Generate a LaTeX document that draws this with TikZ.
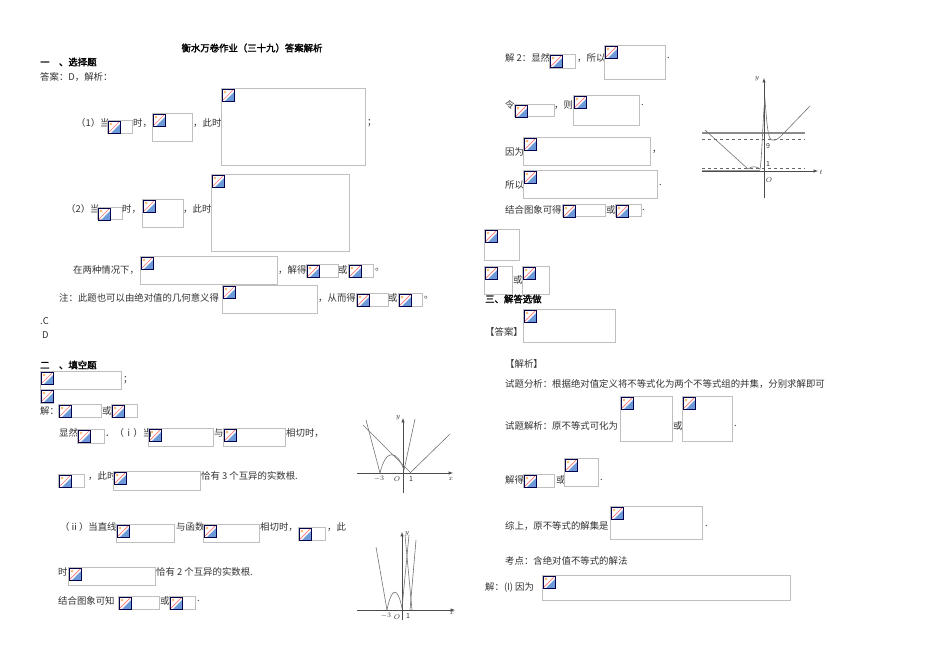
\documentclass[tikz,border=0pt]{standalone}
\usepackage{fontspec}
\setmainfont{Noto Sans CJK SC}
\newfontfamily\hbold[FakeBold=2]{Noto Sans CJK SC}
\begin{document}
\begin{tikzpicture}[x=1pt,y=-1pt,
  txt/.style={anchor=west,inner sep=0pt,font=\fontsize{9.4}{10}\selectfont,text=black!80},
  hd/.style={anchor=west,inner sep=0pt,font=\fontsize{9.4}{10}\selectfont\hbold,text=black},
  lab/.style={inner sep=0pt,font=\fontsize{7}{8}\selectfont,text=black!80},
  box/.style={draw=black!25,line width=0.6pt},
  ax/.style={black!70,line width=0.5pt,-latex},
  cv/.style={black!55,line width=0.6pt}]
\useasboundingbox[fill=white] (0,0) rectangle (950,671);
\newcommand\ph[4]{%
  \draw[box] (#1,#2) rectangle (#3,#4);
  \begin{scope}[shift={(#1+1,#2+1)}]
    \fill[cyan!50!blue!60] (12,3) -- (12,12) -- (3,12) -- cycle;
    \fill[orange!60] (3,3) circle (1.4);
    \draw[red!55,line width=0.7pt] (0,12) -- (12,0);
    \draw[black!70!blue,line width=0.6pt] (0,0) rectangle (12,12);
  \end{scope}}
% ---- left column
\node[hd,anchor=center] (title) at (252,48) {衡水万卷作业（三十九）答案解析};
\node[hd] (s1) at (40,62) {一　、选择题};
\node[txt] (a1) at (40,77) {答案：D，解析：};
\node[txt] (l1) at (76,123) {（1）当};
\ph{107}{120}{132}{133}
\node[txt] (l1b) at (133,123) {时，};
\ph{152}{113}{192}{141}
\node[txt] (l1c) at (193,123) {，此时};
\ph{221}{88}{365}{165}
\node[txt] (l1d) at (367,123) {；};
\node[txt] (l2) at (66,209) {（2）当};
\ph{97}{207}{122}{219}
\node[txt] (l2b) at (122,209) {时，};
\ph{142}{199}{183}{227}
\node[txt] (l2c) at (183,209) {，此时};
\ph{211}{174}{349}{251}
\node[txt] (l3) at (73,270) {在两种情况下，};
\ph{140}{256}{277}{284}
\node[txt] (l3b) at (278,270) {，解得};
\ph{306}{264}{338}{277}
\node[txt] (l3c) at (338,270) {或};
\ph{348}{264}{373}{277}
\node[txt] (l3d) at (375,270) {。};
\node[txt] (l4) at (59,298) {注：此题也可以由绝对值的几何意义得};
\ph{222}{285}{317}{313}
\node[txt] (l4b) at (318,298) {，从而得};
\ph{356}{293}{388}{306}
\node[txt] (l4c) at (388,298) {或};
\ph{398}{293}{422}{306}
\node[txt] (l4d) at (424,298) {。};
\node[txt] (c1) at (40,321) {.C};
\node[txt] (d1) at (42,335) {D};
\node[hd] (s2) at (40,365) {二　、填空题};
\ph{40}{371}{121}{389}
\node[txt] (f1) at (123,380) {；};
\ph{40}{389}{53}{403}
\node[txt] (f2) at (40,411) {解：};
\ph{58}{404}{101}{417}
\node[txt] (f2b) at (102,411) {或};
\ph{111}{404}{137}{417}
\node[txt] (f3) at (59,433) {显然};
\ph{77}{429}{104}{443}
\node[txt] (f3b) at (105,433) {．（ⅰ）当};
\ph{148}{428}{213}{446}
\node[txt] (f3c) at (214,433) {与};
\ph{223}{428}{285}{446}
\node[txt] (f3d) at (286,433) {相切时，};
\ph{58}{474}{84}{487}
\node[txt] (f4) at (88,476) {，此时};
\ph{113}{471}{200}{490}
\node[txt] (f4b) at (201,476) {恰有 3 个互异的实数根.};
\node[txt] (f5) at (60,527) {（ⅱ）当直线};
\ph{116}{524}{174}{542}
\node[txt] (f5b) at (176,527) {与函数};
\ph{203}{524}{259}{542}
\node[txt] (f5c) at (260,527) {相切时，};
\ph{298}{527}{325}{540}
\node[txt] (f5d) at (327,527) {，此};
\node[txt] (f6) at (58,572) {时};
\ph{68}{567}{155}{585}
\node[txt] (f6b) at (156,572) {恰有 2 个互异的实数根.};
\node[txt] (f7) at (58,601) {结合图象可知};
\ph{118}{596}{159}{609}
\node[txt] (f7b) at (160,601) {或};
\ph{169}{596}{195}{609}
\node[txt] (f7c) at (197,601) {.};
% graph 1
\draw[ax] (357,473) -- (453,473);
\draw[ax] (403,493) -- (403,418);
\draw[cv] (366,420) -- (380,473);
\draw[cv] (380,473) .. controls (386,448) and (397,450) .. (404,470);
\draw[cv] (404,470) -- (415,419);
\draw[cv] (363,425) -- (412,474);
\draw[cv] (410,473) -- (450,434);
\node[lab] (g1m3) at (379,479) {$-3$};
\node[lab] (g1o) at (397,479) {$O$};
\node[lab] (g1one) at (411,479) {1};
\node[lab] (g1x) at (451,479) {$x$};
\node[lab] (g1y) at (398,418) {$y$};
% graph 2
\draw[ax] (357,610) -- (455,610);
\draw[ax] (402,620) -- (402,532);
\draw[cv] (376,547) -- (387,610);
\draw[cv] (387,610) .. controls (392,585) and (398,588) .. (402,608);
\draw[cv] (402,608) -- (409,535);
\draw[cv] (405,535) -- (412,610);
\draw[cv] (410,610) -- (416,540);
\node[lab] (g2m3) at (386,616) {$-3$};
\node[lab] (g2o) at (397,617) {$O$};
\node[lab] (g2one) at (408,616) {1};
\node[lab] (g2x) at (452,613) {$x$};
\node[lab] (g2y) at (407,534) {$y$};
% ---- right column
\node[txt] (r1) at (505,58) {解 2：显然};
\ph{549}{54}{575}{68}
\node[txt] (r1b) at (577,58) {，所以};
\ph{604}{45}{665}{79}
\node[txt] (r1c) at (667,58) {.};
\node[txt] (r2) at (505,105) {令};
\ph{514}{104}{554}{116}
\node[txt] (r2b) at (554,105) {，则};
\ph{573}{95}{639}{125}
\node[txt] (r2c) at (641,105) {.};
\node[txt] (r3) at (505,152) {因为};
\ph{523}{137}{650}{165}
\node[txt] (r3b) at (652,152) {，};
\node[txt] (r4) at (505,185) {所以};
\ph{523}{170}{657}{198}
\node[txt] (r4b) at (659,185) {.};
\node[txt] (r5) at (505,210) {结合图象可得};
\ph{562}{204}{605}{216}
\node[txt] (r5b) at (606,210) {或};
\ph{615}{204}{641}{216}
\node[txt] (r5c) at (642,210) {.};
\ph{484}{229}{519}{260}
\ph{484}{266}{512}{294}
\node[txt] (r6) at (513,280) {或};
\ph{522}{266}{549}{294}
% graph 3
\draw[black!45,line width=1.2pt] (702,133) -- (805,133);
\draw[black!60,dashed,line width=0.4pt] (702,139) -- (805,139);
\draw[black!60,dashed,line width=0.4pt] (702,168) -- (805,168);
\draw[black!40,line width=1.4pt] (702,170.5) -- (760,170.5);
\draw[ax] (702,171) -- (818,171);
\draw[ax] (764,198) -- (764,78);
\draw[cv] (705,130) -- (748,169) .. controls (752,166) and (756,166) .. (760,169) .. controls (762,160) and (763,110) .. (765,100) .. controls (767,125) and (768,140) .. (772,140) .. controls (776,141) and (779,138) .. (782,135) -- (810,106);
\node[lab] (g3y) at (757,79) {$y$};
\node[lab] (g3t) at (821,172) {$t$};
\node[lab] (g3n) at (768,146) {9};
\node[lab] (g3one) at (768,164) {1};
\node[lab] (g3o) at (769,180) {$O$};
\node[hd] (s3) at (485,299) {三、解答选做};
\node[txt] (r7) at (485,332) {【答案】};
\ph{523}{309}{615}{342}
\node[txt] (r8) at (505,364) {【解析】};
\node[txt] (r9) at (505,384) {试题分析：根据绝对值定义将不等式化为两个不等式组的并集，分别求解即可};
\node[txt] (r10) at (505,426) {试题解析：原不等式可化为};
\ph{620}{396}{672}{441}
\node[txt] (r10b) at (673,426) {或};
\ph{682}{396}{732}{441}
\node[txt] (r10c) at (734,426) {.};
\node[txt] (r11) at (505,480) {解得};
\ph{523}{474}{554}{487}
\node[txt] (r11b) at (556,480) {或};
\ph{564}{458}{598}{486}
\node[txt] (r11c) at (600,480) {.};
\node[txt] (r12) at (505,526) {综上，原不等式的解集是};
\ph{610}{506}{702}{539}
\node[txt] (r12b) at (705,526) {.};
\node[txt] (r13) at (505,561) {考点：含绝对值不等式的解法};
\node[txt] (r14) at (485,587) {解：(I) 因为};
\ph{542}{575}{790}{600}
\end{tikzpicture}
\end{document}
